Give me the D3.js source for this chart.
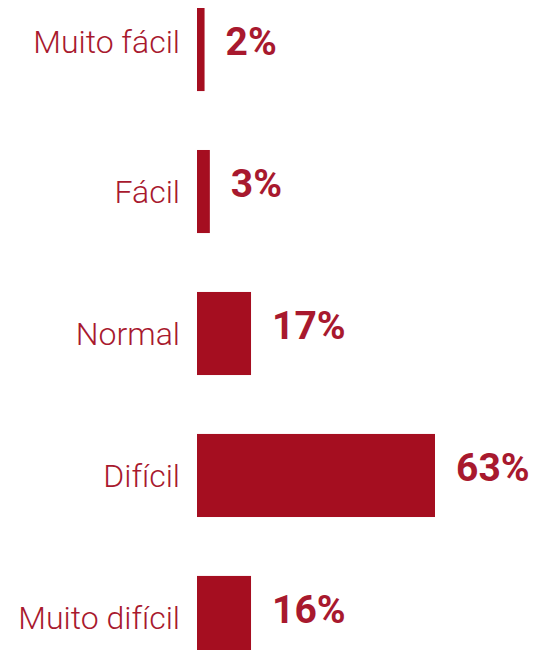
<!DOCTYPE html>
<html>
<head>
<meta charset="utf-8">
<script src="https://cdn.jsdelivr.net/npm/d3@7"></script>
<style>
  html, body { margin: 0; padding: 0; background: #ffffff; }
  svg { display: block; }
</style>
</head>
<body>
<svg id="chart" width="536" height="650"></svg>
<script>
// Data
const categories = ["Muito fácil", "Fácil", "Normal", "Difícil", "Muito difícil"];
const percentLabels = ["2%", "3%", "17%", "63%", "16%"];
// bar lengths as drawn in the picture (in percentage units)
const barValues = [2, 3.4, 14.3, 63, 14.3];

const W = 536, H = 650;
const barColor = "#a50e20";
const textColor = "#a8192e";

const svg = d3.select("#chart");

const x = d3.scaleLinear()
  .domain([0, 63])
  .range([197, 435]);

const y = d3.scaleBand()
  .domain(categories)
  .range([8, 659])
  .paddingInner(0.415)
  .paddingOuter(0);

const data = categories.map((c, i) => ({ cat: c, v: barValues[i], label: percentLabels[i] }));

svg.selectAll("rect.bar")
  .data(data)
  .join("rect")
  .attr("class", "bar")
  .attr("x", x(0))
  .attr("y", d => y(d.cat))
  .attr("width", d => x(d.v) - x(0))
  .attr("height", y.bandwidth())
  .attr("fill", barColor);

svg.selectAll("text.cat")
  .data(data)
  .join("text")
  .attr("class", "cat")
  .attr("x", x(0) - 17)
  .attr("y", d => y(d.cat) + y.bandwidth() / 2 - (d.cat === "Muito fácil" ? 8 : 0))
  .attr("dy", "0.35em")
  .attr("text-anchor", "end")
  .attr("font-family", "Roboto, sans-serif")
  .attr("font-weight", 300)
  .attr("font-size", 32)
  .attr("fill", textColor)
  .text(d => d.cat);

svg.selectAll("text.val")
  .data(data)
  .join("text")
  .attr("class", "val")
  .attr("x", d => x(d.v) + 21)
  .attr("y", d => y(d.cat) + y.bandwidth() / 2 - 8)
  .attr("dy", "0.35em")
  .attr("text-anchor", "start")
  .attr("font-family", "Roboto, sans-serif")
  .attr("font-weight", 700)
  .attr("font-size", 39)
  .attr("fill", textColor)
  .text(d => d.label);
</script>
</body>
</html>
